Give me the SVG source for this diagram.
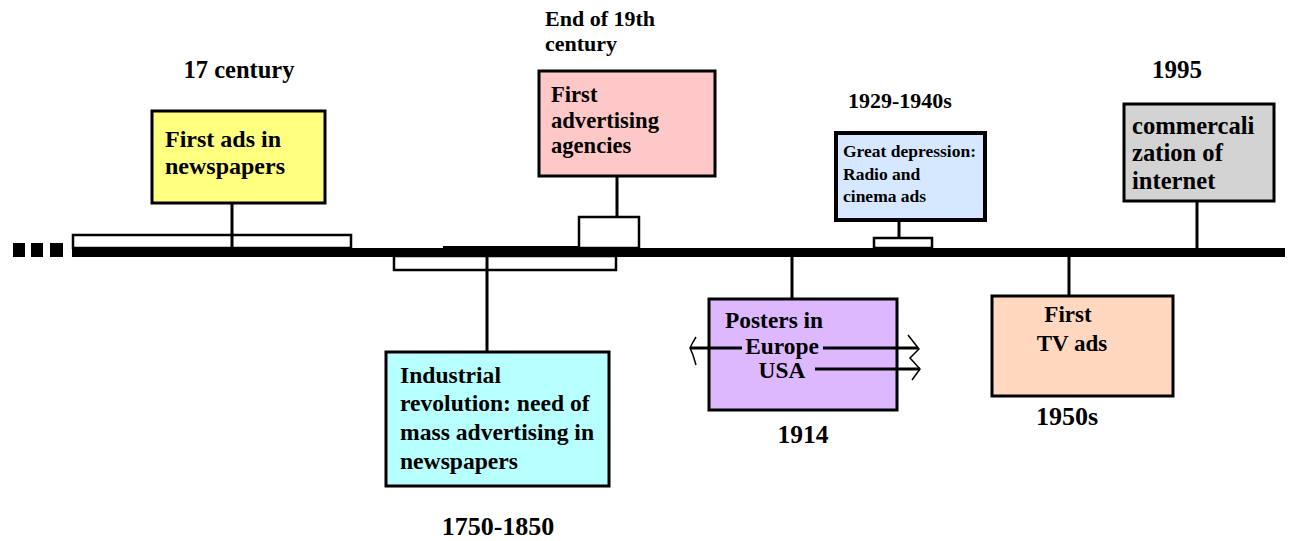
<svg xmlns="http://www.w3.org/2000/svg" width="1291" height="541" viewBox="0 0 1291 541">
<style>
text{font-family:"Liberation Serif","Times New Roman",serif;font-weight:bold;fill:#000}
.box{stroke:#000;stroke-width:3}
.link{stroke:#000;stroke-width:3;fill:none}
.bar{fill:#fff;stroke:#000;stroke-width:2.5}
.arr{stroke:#000;stroke-width:1.5;fill:none}
</style>
<rect width="1291" height="541" fill="#fff"/>
<g id="timeline">
<rect x="13" y="243" width="12" height="14" fill="#000"/>
<rect x="31" y="243" width="12" height="14" fill="#000"/>
<rect x="50" y="243" width="13" height="14" fill="#000"/>
<rect x="72" y="248" width="1213" height="9" fill="#000"/>
<rect x="443" y="246" width="197" height="3" fill="#000"/>
</g>
<g id="connectors">
<rect class="bar" x="73" y="235" width="278" height="13"/>
<line class="link" x1="232" y1="203" x2="232" y2="250"/>
<rect class="bar" x="394" y="256" width="222" height="14"/>
<line class="link" x1="487" y1="256" x2="487" y2="352"/>
<rect class="bar" x="579" y="217" width="60" height="31"/>
<line class="link" x1="617" y1="176" x2="617" y2="217"/>
<line class="link" x1="792" y1="256" x2="792" y2="299"/>
<rect class="bar" x="874" y="238" width="58" height="10"/>
<line class="link" x1="899" y1="220" x2="899" y2="238"/>
<line class="link" x1="1069" y1="256" x2="1069" y2="295"/>
<line class="link" x1="1197" y1="201" x2="1197" y2="249"/>
</g>
<g id="n-17century">
<text x="239" y="78" text-anchor="middle" style="font-size:24.5px">17 century</text>
<rect class="box" x="152" y="111" width="173" height="92" fill="#FFFF80"/>
<g style="font-size:24px">
<text x="165" y="147">First ads in</text>
<text x="165" y="174">newspapers</text>
</g>
</g>
<g id="n-agencies" style="font-size:22px">
<text x="545" y="26">End of 19th</text>
<text x="545" y="51">century</text>
<rect class="box" x="539" y="71" width="176" height="105" fill="#FFC8C8"/>
<g style="font-size:22.6px">
<text x="551" y="102">First</text>
<text x="551" y="128">advertising</text>
<text x="551" y="153">agencies</text>
</g>
</g>
<g id="n-industrial" style="font-size:23.6px">
<rect class="box" x="386" y="352" width="223" height="134" fill="#B8FFFF"/>
<text x="400" y="383">Industrial</text>
<text x="400" y="411">revolution: need of</text>
<text x="400" y="440">mass advertising in</text>
<text x="400" y="469">newspapers</text>
<text x="498" y="535" text-anchor="middle" style="font-size:26px">1750-1850</text>
</g>
<g id="n-posters" style="font-size:23.4px">
<rect class="box" x="709" y="299" width="188" height="111" fill="#DDB8FF"/>
<text x="725" y="328">Posters in</text>
<text x="782" y="354" text-anchor="middle">Europe</text>
<text x="782" y="378" text-anchor="middle">USA</text>
<line class="link" x1="690" y1="348" x2="742" y2="348"/>
<line class="link" x1="823" y1="348" x2="918" y2="348"/>
<line class="link" x1="815" y1="369" x2="920" y2="369"/>
<polyline class="arr" points="696,337 693,342 690,348 693,355 696,365"/>
<polyline class="arr" points="908,335 919,349 910,358 920,369 912,380"/>
<text x="803" y="443" text-anchor="middle" style="font-size:25.5px">1914</text>
</g>
<g id="n-depression">
<text x="900" y="108" text-anchor="middle" style="font-size:22px">1929-1940s</text>
<rect class="box" x="836" y="133" width="149" height="87" stroke-width="4" fill="#D6E8FF" style="stroke-width:4"/>
<g style="font-size:17.5px">
<text x="843" y="157">Great depression:</text>
<text x="843" y="180">Radio and</text>
<text x="843" y="202">cinema ads</text>
</g>
</g>
<g id="n-tv" style="font-size:23px">
<rect class="box" x="992" y="296" width="181" height="100" fill="#FFD8BF"/>
<text x="1068" y="322" text-anchor="middle">First</text>
<text x="1072" y="351" text-anchor="middle">TV ads</text>
<text x="1067" y="425" text-anchor="middle" style="font-size:26px">1950s</text>
</g>
<g id="n-internet" style="font-size:24.6px">
<text x="1177" y="78" text-anchor="middle" style="font-size:25px">1995</text>
<rect class="box" x="1124" y="104" width="150" height="97" fill="#D3D3D3"/>
<text x="1132" y="134">commercali</text>
<text x="1132" y="161">zation of</text>
<text x="1132" y="189">internet</text>
</g>
</svg>
